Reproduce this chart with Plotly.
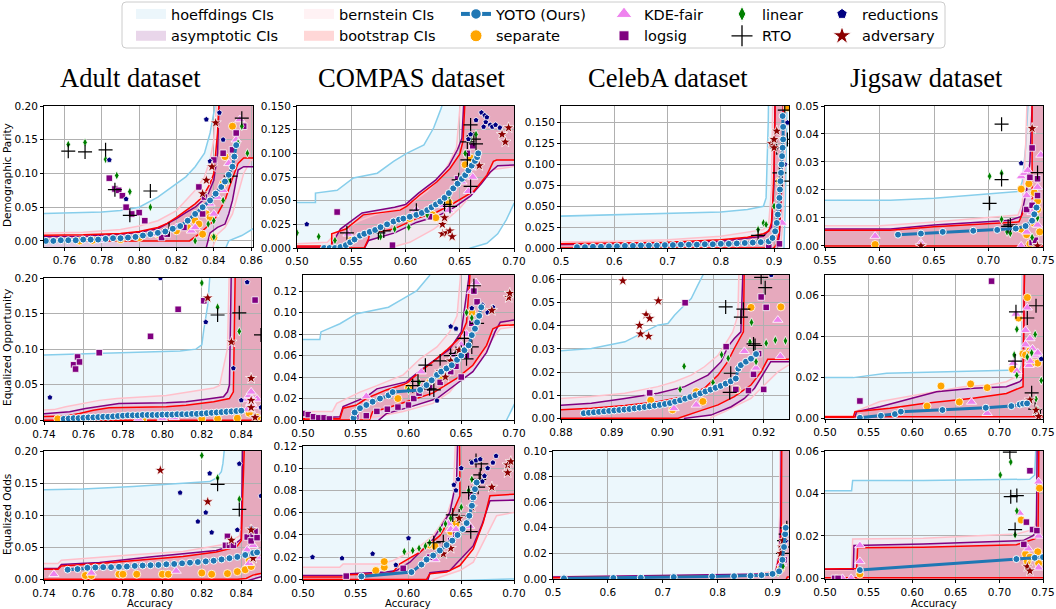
import plotly.graph_objects as go

W, H = 1056, 609

# ======================= DATA =======================
# ---- tick values ----
adult_dp_xticks = [0.76, 0.78, 0.80, 0.82, 0.84, 0.86]
adult_xticks = [0.74, 0.76, 0.78, 0.80, 0.82, 0.84]
compas_xticks = [0.50, 0.55, 0.60, 0.65, 0.70]
celeba_xticks = [0.5, 0.6, 0.7, 0.8, 0.9]
celeba_eop_xticks = [0.88, 0.89, 0.90, 0.91, 0.92]
jigsaw_dp_xticks = [0.55, 0.60, 0.65, 0.70, 0.75]
jigsaw_xticks = [0.50, 0.55, 0.60, 0.65, 0.70, 0.75]
adult_yticks = [0.00, 0.05, 0.10, 0.15, 0.20]
compas_dp_yticks = [0.000, 0.025, 0.050, 0.075, 0.100, 0.125, 0.150]
celeba_dp_yticks = [0.000, 0.025, 0.050, 0.075, 0.100, 0.125, 0.150]
jigsaw_dp_yticks = [0.00, 0.01, 0.02, 0.03, 0.04, 0.05]
compas_eop_yticks = [0.00, 0.02, 0.04, 0.06, 0.08, 0.10, 0.12]
celeba_eop_yticks = [0.00, 0.01, 0.02, 0.03, 0.04, 0.05, 0.06]
jigsaw_eop_yticks = [0.00, 0.02, 0.04, 0.06]
compas_eo_yticks = [0.00, 0.02, 0.04, 0.06, 0.08, 0.10, 0.12]
celeba_eo_yticks = [0.00, 0.02, 0.04, 0.06, 0.08, 0.10]
jigsaw_eo_yticks = [0.00, 0.02, 0.04, 0.06]

# ---- Adult / Demographic Parity ----
adult_dp_hoeff_up = [(0.74,0.040),(0.76,0.041),(0.78,0.043),(0.79,0.045),(0.80,0.050),(0.81,0.065),(0.815,0.075),(0.82,0.085),(0.825,0.095),(0.83,0.110),(0.835,0.130),(0.838,0.160),(0.840,0.190),(0.842,0.220)]
adult_dp_hoeff_lo = [(0.74,-0.02),(0.845,-0.02),(0.848,0.000),(0.855,0.008),(0.861,0.018),(0.87,0.025)]
adult_dp_bern_up = [(0.74,0.011),(0.77,0.013),(0.79,0.017),(0.80,0.022),(0.81,0.030),(0.82,0.045),(0.83,0.075),(0.835,0.095),(0.838,0.120),(0.840,0.150),(0.842,0.220)]
adult_dp_bern_lo = [(0.74,-0.02),(0.838,-0.02),(0.842,0.010),(0.846,0.020),(0.850,0.040),(0.853,0.070),(0.856,0.100),(0.860,0.120),(0.87,0.120)]
adult_dp_asym_up = [(0.74,0.006),(0.77,0.007),(0.79,0.010),(0.80,0.013),(0.81,0.018),(0.82,0.033),(0.825,0.042),(0.83,0.050),(0.834,0.060),(0.837,0.070),(0.840,0.090),(0.842,0.130),(0.843,0.220)]
adult_dp_asym_lo = [(0.74,-0.02),(0.835,-0.02),(0.838,0.012),(0.842,0.020),(0.846,0.025),(0.848,0.040),(0.850,0.060),(0.852,0.090),(0.853,0.105),(0.856,0.110),(0.87,0.110)]
adult_dp_boot_up = [(0.74,0.008),(0.77,0.009),(0.79,0.011),(0.80,0.014),(0.81,0.020),(0.815,0.026),(0.82,0.035),(0.825,0.045),(0.83,0.055),(0.833,0.063),(0.836,0.075),(0.838,0.085),(0.840,0.100),(0.841,0.130),(0.842,0.160),(0.843,0.220)]
adult_dp_boot_lo = [(0.74,0.0),(0.827,0.0),(0.832,0.010),(0.836,0.020),(0.840,0.030),(0.843,0.045),(0.846,0.060),(0.849,0.085),(0.851,0.100),(0.853,0.115),(0.856,0.123),(0.87,0.123)]
adult_dp_yoto = [(0.750,0.000),(0.754,0.000),(0.758,0.001),(0.762,0.001),(0.766,0.001),(0.770,0.002),(0.774,0.002),(0.778,0.002),(0.782,0.003),(0.786,0.004),(0.790,0.004),(0.794,0.005),(0.798,0.006),(0.802,0.008),(0.806,0.010),(0.810,0.012),(0.814,0.014),(0.818,0.018),(0.822,0.022),(0.826,0.030),(0.830,0.040),(0.834,0.050),(0.838,0.060),(0.841,0.070),(0.844,0.080),(0.846,0.088),(0.848,0.098),(0.850,0.110),(0.851,0.125),(0.852,0.142)]
adult_dp_sep = [(0.768,0.000),(0.775,0.001),(0.790,0.002),(0.800,0.005),(0.810,0.010),(0.820,0.015),(0.826,0.020),(0.830,0.030),(0.832,0.025),(0.834,0.010),(0.836,0.040),(0.838,0.035),(0.840,0.005),(0.845,0.085),(0.846,0.125),(0.850,0.170)]
adult_dp_kde = [(0.780,0.001),(0.810,0.010),(0.820,0.020),(0.828,0.015),(0.830,0.020),(0.834,0.050),(0.838,0.055),(0.840,0.040),(0.842,0.065),(0.845,0.075),(0.848,0.115),(0.852,0.150),(0.854,0.180)]
adult_dp_logsig = [(0.784,0.093),(0.787,0.077),(0.789,0.075),(0.791,0.067),(0.793,0.050),(0.796,0.040),(0.800,0.042),(0.803,0.030),(0.812,0.005),(0.815,0.010),(0.824,0.020),(0.832,0.080),(0.834,0.040),(0.835,0.065),(0.840,0.120),(0.845,0.130),(0.850,0.135),(0.852,0.160),(0.856,0.170)]
adult_dp_linear = [(0.762,0.143),(0.771,0.146),(0.782,0.121),(0.788,0.097),(0.795,0.073),(0.806,0.050),(0.830,0.000),(0.837,0.025),(0.840,0.030),(0.840,0.006),(0.845,0.060),(0.848,0.090),(0.853,0.145),(0.855,0.170),(0.858,0.130)]
adult_dp_rto = [(0.762,0.133),(0.771,0.132),(0.782,0.135),(0.787,0.076),(0.795,0.038),(0.806,0.074),(0.816,0.017),(0.849,0.096),(0.855,0.182)]
adult_dp_red = [(0.784,0.120),(0.793,0.062),(0.836,0.180),(0.838,0.118),(0.843,0.190),(0.845,0.150)]
adult_dp_adv = [(0.834,0.070),(0.836,0.090),(0.839,0.110),(0.841,0.175)]

# ---- COMPAS / Demographic Parity ----
compas_dp_hoeff_up = [(0.49,0.048),(0.517,0.048),(0.517,0.058),(0.537,0.061),(0.552,0.074),(0.574,0.079),(0.589,0.0915),(0.601,0.100),(0.617,0.109),(0.626,0.127),(0.633,0.148),(0.636,0.160)]
compas_dp_hoeff_lo = [(0.49,-0.01),(0.64,-0.01),(0.66,0.000),(0.675,0.005),(0.685,0.015),(0.693,0.030),(0.700,0.047),(0.71,0.060)]
compas_dp_bern_up = [(0.49,0.004),(0.528,0.006),(0.535,0.015),(0.558,0.029),(0.574,0.036),(0.595,0.042),(0.607,0.049),(0.620,0.060),(0.632,0.074),(0.641,0.0915),(0.647,0.106),(0.650,0.148),(0.651,0.160)]
compas_dp_bern_lo = [(0.49,-0.01),(0.574,-0.01),(0.585,0.000),(0.604,0.006),(0.626,0.020),(0.638,0.030),(0.650,0.042),(0.663,0.060),(0.675,0.0755),(0.681,0.083),(0.700,0.086),(0.71,0.086)]
compas_dp_asym_up = [(0.49,0.001),(0.530,0.001),(0.535,0.010),(0.540,0.020),(0.560,0.037),(0.590,0.043),(0.600,0.046),(0.612,0.058),(0.628,0.072),(0.640,0.087),(0.648,0.104),(0.652,0.116),(0.654,0.160)]
compas_dp_asym_lo = [(0.49,-0.005),(0.560,-0.005),(0.566,0.008),(0.590,0.016),(0.610,0.027),(0.630,0.034),(0.645,0.043),(0.660,0.055),(0.670,0.068),(0.678,0.080),(0.685,0.087),(0.700,0.088),(0.71,0.088)]
compas_dp_boot_up = [(0.49,0.002),(0.532,0.002),(0.532,0.015),(0.545,0.020),(0.561,0.035),(0.595,0.040),(0.601,0.044),(0.613,0.056),(0.629,0.070),(0.641,0.084),(0.650,0.099),(0.653,0.113),(0.655,0.160)]
compas_dp_boot_lo = [(0.49,0.0),(0.562,0.0),(0.566,0.010),(0.567,0.015),(0.589,0.020),(0.610,0.031),(0.629,0.038),(0.644,0.047),(0.663,0.060),(0.675,0.077),(0.681,0.0915),(0.684,0.093),(0.700,0.093),(0.71,0.093)]
compas_dp_yoto = [(0.525,0.000),(0.530,0.000),(0.535,0.000),(0.540,0.001),(0.545,0.003),(0.549,0.006),(0.553,0.009),(0.558,0.013),(0.562,0.015),(0.567,0.017),(0.572,0.019),(0.577,0.022),(0.583,0.025),(0.589,0.028),(0.594,0.030),(0.598,0.031),(0.604,0.033),(0.610,0.035),(0.615,0.037),(0.620,0.040),(0.624,0.043),(0.628,0.046),(0.632,0.049),(0.636,0.053),(0.640,0.058),(0.644,0.063),(0.648,0.068),(0.652,0.073),(0.655,0.077),(0.658,0.082),(0.661,0.087),(0.664,0.092),(0.666,0.096),(0.667,0.100)]
compas_dp_sep = [(0.550,0.008),(0.604,0.031),(0.625,0.035),(0.628,0.032),(0.640,0.048),(0.655,0.088),(0.660,0.095)]
compas_dp_kde = [(0.547,0.015),(0.556,0.012),(0.610,0.040),(0.635,0.045),(0.640,0.040),(0.652,0.070),(0.658,0.060),(0.660,0.085),(0.662,0.075)]
compas_dp_logsig = [(0.537,0.038),(0.588,0.003),(0.622,0.033),(0.648,0.073),(0.657,0.100),(0.662,0.108)]
compas_dp_linear = [(0.500,0.016),(0.520,0.012),(0.535,0.008),(0.577,0.012),(0.590,0.020),(0.603,0.022),(0.620,0.035),(0.640,0.055),(0.655,0.100),(0.660,0.115),(0.665,0.120)]
compas_dp_rto = [(0.546,0.016),(0.575,0.016),(0.580,0.018),(0.610,0.040),(0.636,0.046),(0.641,0.044),(0.649,0.072),(0.657,0.093),(0.657,0.112),(0.660,0.065),(0.660,0.130),(0.663,0.115),(0.665,0.110)]
compas_dp_red = [(0.509,0.025),(0.658,0.115),(0.660,0.120),(0.665,0.135),(0.670,0.143),(0.672,0.128),(0.673,0.140),(0.674,0.133),(0.675,0.138),(0.678,0.130),(0.680,0.128),(0.683,0.130),(0.687,0.127)]
compas_dp_adv = [(0.634,0.015),(0.634,0.025),(0.636,0.032),(0.638,0.016),(0.641,0.018),(0.643,0.012),(0.668,0.087),(0.689,0.120),(0.692,0.112),(0.695,0.127)]

# ---- CelebA / Demographic Parity ----
celeba_dp_hoeff_up = [(0.49,0.038),(0.60,0.040),(0.70,0.041),(0.80,0.043),(0.85,0.046),(0.88,0.050),(0.885,0.060),(0.887,0.100),(0.889,0.150),(0.890,0.200)]
celeba_dp_hoeff_lo = [(0.49,-0.01),(0.918,-0.01),(0.921,0.050),(0.923,0.150),(0.925,0.200),(0.95,0.200)]
celeba_dp_bern_up = [(0.49,0.007),(0.60,0.008),(0.70,0.010),(0.80,0.014),(0.88,0.022),(0.89,0.030),(0.895,0.070),(0.898,0.200)]
celeba_dp_bern_lo = [(0.49,-0.01),(0.910,-0.01),(0.915,0.020),(0.920,0.100),(0.922,0.200),(0.95,0.200)]
celeba_dp_asym_up = [(0.49,0.004),(0.60,0.005),(0.70,0.006),(0.80,0.008),(0.88,0.014),(0.895,0.025),(0.900,0.080),(0.902,0.200)]
celeba_dp_asym_lo = [(0.49,-0.005),(0.905,-0.005),(0.910,0.015),(0.915,0.080),(0.918,0.200),(0.95,0.200)]
celeba_dp_boot_up = [(0.49,0.005),(0.60,0.006),(0.70,0.007),(0.80,0.010),(0.85,0.013),(0.88,0.017),(0.89,0.020),(0.895,0.030),(0.898,0.060),(0.900,0.100),(0.902,0.150),(0.903,0.200)]
celeba_dp_boot_lo = [(0.49,0.0),(0.900,0.0),(0.905,0.005),(0.910,0.020),(0.913,0.060),(0.915,0.100),(0.917,0.150),(0.918,0.200),(0.95,0.200)]
celeba_dp_yoto = [(0.530,0.001),(0.545,0.001),(0.560,0.0015),(0.575,0.0015),(0.590,0.002),(0.605,0.002),(0.620,0.0025),(0.635,0.0025),(0.650,0.003),(0.665,0.003),(0.680,0.003),(0.695,0.0035),(0.710,0.0035),(0.725,0.004),(0.740,0.004),(0.755,0.004),(0.770,0.0045),(0.785,0.0045),(0.800,0.005),(0.815,0.005),(0.830,0.0055),(0.845,0.006),(0.860,0.0065),(0.875,0.007),(0.890,0.008),(0.897,0.012),(0.902,0.020),(0.905,0.030),(0.907,0.040),(0.909,0.050),(0.910,0.060),(0.911,0.070),(0.912,0.080),(0.913,0.090),(0.914,0.100),(0.915,0.110),(0.916,0.120),(0.917,0.130),(0.917,0.145),(0.916,0.158)]
celeba_dp_sep = [(0.910,0.080),(0.925,0.168)]
celeba_dp_kde = [(0.915,0.030)]
celeba_dp_logsig = [(0.890,0.002),(0.910,0.005)]
celeba_dp_linear = [(0.870,0.022),(0.880,0.030),(0.885,0.028),(0.900,0.050),(0.910,0.090)]
celeba_dp_rto = [(0.870,0.015),(0.905,0.120),(0.910,0.090),(0.915,0.080),(0.920,0.165),(0.925,0.130)]
celeba_dp_red = [(0.920,0.100),(0.925,0.150)]
celeba_dp_adv = [(0.895,0.125),(0.900,0.120),(0.900,0.130),(0.905,0.140)]

# ---- Jigsaw / Demographic Parity ----
jigsaw_dp_hoeff_up = [(0.54,0.0163),(0.61,0.0163),(0.65,0.0170),(0.70,0.0185),(0.728,0.0195),(0.731,0.023),(0.734,0.035),(0.736,0.049),(0.737,0.060)]
jigsaw_dp_hoeff_lo = [(0.54,-0.01),(0.80,-0.01)]
jigsaw_dp_bern_up = [(0.54,0.0072),(0.60,0.0072),(0.65,0.0085),(0.70,0.0100),(0.727,0.0110),(0.731,0.015),(0.734,0.035),(0.736,0.060)]
jigsaw_dp_bern_lo = [(0.54,-0.01),(0.80,-0.01)]
jigsaw_dp_asym_up = [(0.54,0.0060),(0.61,0.0060),(0.65,0.0075),(0.72,0.0092),(0.730,0.0105),(0.735,0.020),(0.738,0.030),(0.740,0.045),(0.741,0.060)]
jigsaw_dp_asym_lo = [(0.54,-0.005),(0.80,-0.005)]
jigsaw_dp_boot_up = [(0.54,0.0056),(0.61,0.0056),(0.65,0.0068),(0.728,0.0086),(0.733,0.0133),(0.740,0.0140),(0.740,0.060)]
jigsaw_dp_boot_lo = [(0.54,0.0),(0.80,0.0)]
jigsaw_dp_yoto = [(0.617,0.0040),(0.638,0.0044),(0.658,0.0050),(0.686,0.0054),(0.708,0.0057),(0.725,0.0062),(0.734,0.0071),(0.740,0.0090),(0.742,0.0113),(0.744,0.0137)]
jigsaw_dp_sep = [(0.596,0.0005),(0.730,0.0203),(0.730,0.0060),(0.735,0.0040),(0.737,0.0222),(0.738,0.0007),(0.742,0.0190),(0.742,0.0080),(0.745,0.0160),(0.745,0.0130),(0.747,0.0050)]
jigsaw_dp_kde = [(0.596,0.0035),(0.638,0.0010),(0.730,0.0248),(0.730,0.0000),(0.733,0.0260),(0.735,0.0180),(0.735,0.0050),(0.736,0.0270),(0.740,0.0150),(0.740,0.0120),(0.745,0.0210),(0.745,0.0075),(0.748,0.0325)]
jigsaw_dp_logsig = [(0.735,0.0130),(0.738,0.0245),(0.740,0.0350),(0.740,0.0145),(0.740,0.0012),(0.743,0.0020),(0.745,0.0240),(0.745,0.0180)]
jigsaw_dp_linear = [(0.701,0.0249),(0.712,0.0260),(0.712,0.0095),(0.717,0.0050),(0.720,0.0045),(0.740,0.0030),(0.745,0.0100)]
jigsaw_dp_rto = [(0.701,0.0152),(0.712,0.0435),(0.712,0.0237),(0.718,0.0070),(0.720,0.0075),(0.745,0.0262)]
jigsaw_dp_red = [(0.730,0.0295)]
jigsaw_dp_adv = [(0.638,0.0000),(0.740,0.0420),(0.745,0.0000)]

# ---- Adult / Equalized Opportunity ----
adult_eop_hoeff_up = [(0.73,0.091),(0.751,0.0925),(0.768,0.094),(0.785,0.0955),(0.809,0.0975),(0.817,0.100),(0.820,0.106),(0.821,0.127),(0.823,0.162),(0.824,0.200),(0.825,0.220)]
adult_eop_hoeff_lo = [(0.73,-0.02),(0.87,-0.02)]
adult_eop_bern_up = [(0.73,0.013),(0.745,0.015),(0.751,0.019),(0.760,0.0235),(0.768,0.028),(0.777,0.0305),(0.785,0.032),(0.802,0.035),(0.814,0.040),(0.826,0.0455),(0.829,0.049),(0.831,0.077),(0.833,0.101),(0.834,0.220)]
adult_eop_bern_lo = [(0.73,-0.02),(0.87,-0.02)]
adult_eop_asym_up = [(0.73,0.007),(0.753,0.012),(0.761,0.0165),(0.773,0.021),(0.778,0.0235),(0.802,0.0245),(0.812,0.026),(0.822,0.0295),(0.831,0.033),(0.833,0.040),(0.834,0.0495),(0.835,0.220)]
adult_eop_asym_lo = [(0.73,-0.02),(0.87,-0.02)]
adult_eop_boot_up = [(0.73,0.005),(0.751,0.006),(0.758,0.0095),(0.765,0.014),(0.773,0.0175),(0.802,0.019),(0.812,0.021),(0.826,0.026),(0.834,0.0305),(0.836,0.040),(0.837,0.220)]
adult_eop_boot_lo = [(0.73,0.0),(0.87,0.0)]
adult_eop_yoto = [(0.750,0.002),(0.7525,0.0025),(0.755,0.003),(0.7575,0.003),(0.760,0.0035),(0.7625,0.004),(0.765,0.004),(0.7675,0.0045),(0.770,0.005),(0.7725,0.005),(0.775,0.0055),(0.7775,0.006),(0.780,0.0065),(0.7825,0.007),(0.785,0.007),(0.7875,0.007),(0.790,0.0075),(0.7925,0.0075),(0.795,0.0075),(0.7975,0.0075),(0.800,0.008),(0.8025,0.008),(0.805,0.008),(0.8075,0.0085),(0.810,0.0085),(0.8125,0.0085),(0.815,0.009),(0.8175,0.009),(0.820,0.0095),(0.8225,0.010),(0.825,0.0105),(0.8275,0.011),(0.830,0.0115),(0.8325,0.012),(0.835,0.0125),(0.8375,0.013),(0.840,0.0135)]
adult_eop_sep = [(0.747,0.002),(0.790,0.001),(0.820,0.002),(0.828,0.002),(0.838,0.003),(0.844,0.010),(0.848,0.004)]
adult_eop_kde = [(0.788,0.002),(0.800,0.003),(0.806,0.004),(0.843,0.015),(0.843,0.030),(0.844,0.035),(0.845,0.025),(0.845,0.040),(0.846,0.020),(0.848,0.030)]
adult_eop_logsig = [(0.755,0.078),(0.756,0.072),(0.757,0.089),(0.758,0.082),(0.768,0.095),(0.794,0.118),(0.808,0.156),(0.821,0.168),(0.847,0.169)]
adult_eop_linear = [(0.820,0.193),(0.828,0.159),(0.839,0.125)]
adult_eop_rto = [(0.828,0.148),(0.839,0.151),(0.850,0.120)]
adult_eop_red = [(0.743,0.032),(0.799,0.200),(0.822,0.138),(0.836,0.073),(0.840,0.028),(0.843,0.194),(0.850,0.018)]
adult_eop_adv = [(0.823,0.172),(0.835,0.110),(0.845,0.059),(0.845,0.028),(0.845,0.018),(0.847,0.004)]

# ---- COMPAS / Equalized Opportunity ----
compas_eop_hoeff_up = [(0.49,0.075),(0.516,0.075),(0.517,0.082),(0.535,0.0896),(0.551,0.099),(0.566,0.102),(0.581,0.105),(0.595,0.113),(0.608,0.1205),(0.617,0.131),(0.620,0.1345),(0.622,0.150)]
compas_eop_hoeff_lo = [(0.49,-0.01),(0.690,-0.01),(0.693,0.0),(0.700,0.014),(0.71,0.030)]
compas_eop_bern_up = [(0.49,0.008),(0.528,0.008),(0.532,0.0155),(0.554,0.026),(0.570,0.032),(0.595,0.042),(0.611,0.057),(0.627,0.068),(0.639,0.082),(0.646,0.097),(0.649,0.131),(0.650,0.150)]
compas_eop_bern_lo = [(0.49,-0.01),(0.550,-0.01),(0.554,0.0),(0.595,0.008),(0.623,0.0155),(0.639,0.026),(0.652,0.042),(0.668,0.057),(0.680,0.076),(0.687,0.085),(0.700,0.0865),(0.71,0.0865)]
compas_eop_asym_up = [(0.49,0.001),(0.535,0.003),(0.538,0.0125),(0.560,0.0215),(0.570,0.029),(0.598,0.0355),(0.611,0.046),(0.627,0.057),(0.639,0.066),(0.650,0.082),(0.657,0.131),(0.658,0.150)]
compas_eop_asym_lo = [(0.49,-0.005),(0.570,-0.005),(0.572,0.0),(0.579,0.006),(0.601,0.012),(0.627,0.020),(0.646,0.034),(0.661,0.045),(0.674,0.063),(0.682,0.082),(0.687,0.091),(0.700,0.093),(0.71,0.093)]
compas_eop_boot_up = [(0.49,0.001),(0.535,0.0015),(0.538,0.011),(0.551,0.014),(0.560,0.020),(0.579,0.028),(0.598,0.034),(0.611,0.045),(0.623,0.054),(0.636,0.065),(0.649,0.077),(0.655,0.091),(0.658,0.131),(0.659,0.150)]
compas_eop_boot_lo = [(0.49,0.0),(0.563,0.0),(0.566,0.0077),(0.579,0.011),(0.598,0.017),(0.623,0.025),(0.646,0.039),(0.661,0.051),(0.674,0.0695),(0.680,0.085),(0.687,0.088),(0.700,0.089),(0.71,0.089)]
compas_eop_yoto = [(0.548,0.002),(0.549,0.007),(0.554,0.011),(0.560,0.014),(0.566,0.017),(0.573,0.020),(0.581,0.023),(0.585,0.026),(0.611,0.028),(0.617,0.0325),(0.622,0.037),(0.627,0.042),(0.631,0.045),(0.636,0.048),(0.641,0.051),(0.646,0.056),(0.650,0.060),(0.653,0.065),(0.657,0.0695),(0.660,0.079),(0.663,0.085),(0.665,0.091),(0.667,0.097),(0.669,0.105)]
compas_eop_sep = [(0.590,0.020),(0.600,0.030),(0.620,0.035),(0.630,0.040),(0.645,0.055),(0.660,0.100)]
compas_eop_kde = [(0.560,0.022),(0.612,0.045),(0.643,0.060),(0.650,0.070),(0.655,0.080),(0.660,0.120),(0.664,0.128)]
compas_eop_logsig = [(0.500,0.006),(0.505,0.005),(0.510,0.003),(0.515,0.002),(0.520,0.002),(0.525,0.001),(0.550,0.003),(0.560,0.004),(0.570,0.008),(0.580,0.010),(0.590,0.012),(0.600,0.014),(0.605,0.020),(0.610,0.025),(0.620,0.030),(0.630,0.035),(0.640,0.045),(0.645,0.050),(0.650,0.040),(0.655,0.060),(0.660,0.090),(0.662,0.120),(0.665,0.110)]
compas_eop_linear = [(0.600,0.028),(0.610,0.035),(0.640,0.050),(0.650,0.065),(0.655,0.100),(0.660,0.095)]
compas_eop_rto = [(0.604,0.032),(0.609,0.036),(0.616,0.051),(0.620,0.029),(0.624,0.028),(0.630,0.055),(0.640,0.060),(0.645,0.062),(0.650,0.063),(0.653,0.076),(0.655,0.057),(0.660,0.068),(0.662,0.125),(0.665,0.090)]
compas_eop_red = [(0.627,0.018),(0.640,0.087),(0.645,0.085),(0.660,0.104),(0.670,0.107),(0.675,0.100),(0.680,0.105)]
compas_eop_adv = [(0.630,0.045),(0.635,0.040),(0.640,0.055),(0.648,0.065),(0.679,0.102),(0.695,0.114),(0.696,0.118)]

# ---- CelebA / Equalized Opportunity ----
celeba_eop_hoeff_up = [(0.875,0.0285),(0.886,0.0302),(0.8926,0.0331),(0.8965,0.0374),(0.8991,0.0403),(0.9011,0.0410),(0.9024,0.0446),(0.9037,0.0475),(0.9057,0.0518),(0.9070,0.0576),(0.9080,0.0619),(0.9085,0.070)]
celeba_eop_hoeff_lo = [(0.875,-0.01),(0.93,-0.01)]
celeba_eop_bern_up = [(0.875,0.0079),(0.886,0.0094),(0.8926,0.0108),(0.8991,0.0137),(0.9024,0.0158),(0.9057,0.0187),(0.9083,0.0223),(0.9110,0.0273),(0.9123,0.0317),(0.9139,0.0374),(0.9149,0.0446),(0.9152,0.070)]
celeba_eop_bern_lo = [(0.875,-0.01),(0.9090,-0.01),(0.9096,0.0003),(0.9123,0.0029),(0.9149,0.0058),(0.9175,0.0086),(0.9188,0.0115),(0.9208,0.0158),(0.9228,0.0201),(0.9249,0.0230),(0.93,0.024)]
celeba_eop_asym_up = [(0.875,0.0050),(0.886,0.0065),(0.8926,0.0086),(0.8991,0.0108),(0.9044,0.0137),(0.9090,0.0187),(0.9116,0.0245),(0.9129,0.0309),(0.9142,0.0345),(0.9155,0.0374),(0.9160,0.070)]
celeba_eop_asym_lo = [(0.875,-0.005),(0.9040,-0.005),(0.9044,0.0),(0.9096,0.0014),(0.9136,0.0050),(0.9162,0.0086),(0.9182,0.0130),(0.9201,0.0201),(0.9214,0.0245),(0.93,0.0245)]
celeba_eop_boot_up = [(0.875,0.0033),(0.886,0.0043),(0.8926,0.0055),(0.8991,0.0072),(0.9044,0.0094),(0.9083,0.0130),(0.9110,0.0187),(0.9129,0.0245),(0.9142,0.0302),(0.9152,0.0345),(0.9160,0.0374),(0.9162,0.070)]
celeba_eop_boot_lo = [(0.875,0.0),(0.9031,0.0),(0.9070,0.0029),(0.9110,0.0058),(0.9142,0.0094),(0.9175,0.0144),(0.9195,0.0201),(0.9208,0.0255),(0.93,0.0255)]
celeba_eop_yoto = [(0.8845,0.0022),(0.8855,0.0024),(0.8865,0.0026),(0.8875,0.0028),(0.8885,0.0030),(0.8895,0.0032),(0.8905,0.0034),(0.8915,0.0036),(0.8925,0.0038),(0.8935,0.0040),(0.8945,0.0043),(0.8955,0.0046),(0.8965,0.0049),(0.8975,0.0052),(0.8985,0.0055),(0.8995,0.0058),(0.9005,0.0062),(0.9015,0.0066),(0.9025,0.0072),(0.9035,0.0078),(0.9045,0.0085),(0.9055,0.0092),(0.9065,0.0100),(0.9075,0.0108),(0.9085,0.0116),(0.9095,0.0124),(0.9105,0.0132),(0.9115,0.0140),(0.9125,0.0150),(0.9135,0.0160),(0.9145,0.0172),(0.9150,0.0215),(0.9155,0.0230),(0.9165,0.0245),(0.9175,0.0258),(0.9185,0.0278)]
celeba_eop_sep = [(0.8977,0.0078),(0.9020,0.0037),(0.9067,0.0115),(0.9080,0.0073),(0.9147,0.0125),(0.9175,0.0480),(0.9234,0.0482)]
celeba_eop_kde = [(0.8975,0.0110),(0.9023,0.0043),(0.9067,0.0058),(0.9162,0.0290),(0.9185,0.0218),(0.9228,0.0425),(0.9233,0.0268)]
celeba_eop_logsig = [(0.8975,0.0110),(0.9045,0.0500),(0.9126,0.0310),(0.9145,0.0125),(0.9170,0.0120),(0.9180,0.0190),(0.9190,0.0280),(0.9195,0.0525),(0.9200,0.0125),(0.9205,0.0480)]
celeba_eop_linear = [(0.9035,0.0125),(0.9043,0.0225),(0.9100,0.0155),(0.9117,0.0275),(0.9130,0.0260),(0.9173,0.0330),(0.9176,0.0415),(0.9185,0.0245),(0.9205,0.0325),(0.9223,0.0338),(0.9243,0.0335)]
celeba_eop_rto = [(0.9125,0.0482),(0.9133,0.0112),(0.9135,0.0195),(0.9155,0.0438),(0.9160,0.0472),(0.9180,0.0322),(0.9183,0.0315),(0.9195,0.0610),(0.9203,0.0565)]
celeba_eop_red = [(0.9215,0.0620)]
celeba_eop_adv = [(0.8922,0.0595),(0.8955,0.0402),(0.8957,0.0365),(0.8968,0.0448),(0.8973,0.0355),(0.8975,0.0432),(0.8992,0.0508)]

# ---- Jigsaw / Equalized Opportunity ----
jigsaw_eop_hoeff_up = [(0.49,0.0199),(0.5324,0.0199),(0.5706,0.0220),(0.6508,0.0228),(0.7233,0.0236),(0.7252,0.0260),(0.7263,0.0700),(0.7265,0.080)]
jigsaw_eop_hoeff_lo = [(0.49,-0.01),(0.80,-0.01)]
jigsaw_eop_bern_up = [(0.49,0.0013),(0.5324,0.0013),(0.5344,0.0033),(0.5630,0.0082),(0.5935,0.0106),(0.6240,0.0130),(0.6584,0.0155),(0.6889,0.0163),(0.7080,0.0179),(0.7230,0.0212),(0.7260,0.0260),(0.7270,0.080)]
jigsaw_eop_bern_lo = [(0.49,-0.01),(0.80,-0.01)]
jigsaw_eop_asym_up = [(0.49,0.0008),(0.5344,0.0008),(0.5363,0.0033),(0.5630,0.0057),(0.6279,0.0130),(0.6698,0.0147),(0.7080,0.0155),(0.7233,0.0179),(0.7271,0.0196),(0.7290,0.080)]
jigsaw_eop_asym_lo = [(0.49,-0.005),(0.80,-0.005)]
jigsaw_eop_boot_up = [(0.49,0.0005),(0.5324,0.0005),(0.5344,0.0033),(0.5744,0.0049),(0.6126,0.0073),(0.6698,0.0098),(0.7080,0.0122),(0.7271,0.0155),(0.7290,0.080)]
jigsaw_eop_boot_lo = [(0.49,0.0008),(0.80,0.0008)]
jigsaw_eop_yoto = [(0.540,0.0003),(0.5641,0.0013),(0.5802,0.0021),(0.5870,0.0033),(0.6347,0.0041),(0.6844,0.0052),(0.7137,0.0060),(0.7233,0.0068),(0.7271,0.0072),(0.7317,0.0073)]
jigsaw_eop_sep = [(0.617,0.0060),(0.633,0.0158),(0.654,0.0080),(0.667,0.0168),(0.686,0.0150),(0.715,0.0240),(0.722,0.0490),(0.727,0.0315),(0.730,0.0310),(0.732,0.0590),(0.735,0.0330),(0.738,0.0270),(0.744,0.0270)]
jigsaw_eop_kde = [(0.668,0.0080),(0.686,0.0025),(0.716,0.0270),(0.719,0.0510),(0.720,0.0230),(0.730,0.0430),(0.730,0.0360),(0.732,0.0540),(0.734,0.0260),(0.735,0.0390),(0.735,0.0280),(0.738,0.0340),(0.741,0.0310),(0.744,0.0320)]
jigsaw_eop_logsig = [(0.540,0.0085),(0.691,0.0670)]
jigsaw_eop_linear = [(0.717,0.0310),(0.720,0.0435),(0.720,0.0210),(0.732,0.0300),(0.737,0.0320),(0.741,0.0410),(0.742,0.0095),(0.744,0.0040),(0.748,0.0185)]
jigsaw_eop_rto = [(0.718,0.0280),(0.719,0.0520),(0.732,0.0490),(0.737,0.0125),(0.741,0.0045),(0.742,0.0550),(0.747,0.0015)]
jigsaw_eop_red = [(0.748,0.0290)]
jigsaw_eop_adv = [(0.735,0.0090),(0.742,0.0040),(0.745,0.0010)]

# ---- Adult / Equalized Odds ----
adult_eo_hoeff_up = [(0.73,0.139),(0.7598,0.1407),(0.7851,0.1448),(0.8020,0.1483),(0.8121,0.1499),(0.8240,0.1524),(0.8273,0.1575),(0.8299,0.1678),(0.8307,0.1806),(0.8316,0.2000),(0.832,0.220)]
adult_eo_hoeff_lo = [(0.73,-0.02),(0.87,-0.02)]
adult_eo_bern_up = [(0.73,0.0246),(0.7471,0.0246),(0.7488,0.0297),(0.7682,0.0348),(0.7851,0.0384),(0.8104,0.0435),(0.8324,0.0552),(0.8392,0.0680),(0.8408,0.1294),(0.8412,0.220)]
adult_eo_bern_lo = [(0.73,-0.02),(0.87,-0.02)]
adult_eo_asym_up = [(0.73,0.0169),(0.7471,0.0169),(0.7488,0.0230),(0.7682,0.0261),(0.7935,0.0348),(0.8104,0.0399),(0.8273,0.0450),(0.8358,0.0527),(0.8400,0.0629),(0.8408,0.220)]
adult_eo_asym_lo = [(0.73,-0.005),(0.840,-0.005),(0.850,0.004),(0.87,0.006)]
adult_eo_boot_up = [(0.73,0.0159),(0.7471,0.0159),(0.7488,0.0210),(0.7682,0.0246),(0.7935,0.0312),(0.8104,0.0358),(0.8273,0.0425),(0.8375,0.0501),(0.8400,0.0604),(0.8417,0.220)]
adult_eo_boot_lo = [(0.73,0.0),(0.838,0.0),(0.8425,0.0015),(0.8459,0.0066),(0.8498,0.0092),(0.87,0.0095)]
adult_eo_yoto = [(0.752,0.015),(0.757,0.016),(0.762,0.018),(0.766,0.0185),(0.770,0.019),(0.774,0.019),(0.778,0.0195),(0.782,0.020),(0.786,0.021),(0.790,0.0215),(0.794,0.022),(0.798,0.0225),(0.802,0.0235),(0.806,0.024),(0.810,0.025),(0.814,0.026),(0.818,0.027),(0.822,0.028),(0.826,0.029),(0.830,0.031),(0.834,0.033),(0.838,0.035),(0.842,0.038),(0.846,0.041),(0.848,0.042)]
adult_eo_sep = [(0.761,0.006),(0.764,0.006),(0.778,0.008),(0.780,0.008),(0.787,0.008),(0.800,0.008),(0.803,0.008),(0.820,0.010),(0.825,0.008),(0.833,0.009),(0.838,0.012),(0.842,0.015),(0.844,0.030),(0.845,0.020)]
adult_eo_kde = [(0.745,0.008),(0.764,0.010),(0.807,0.013),(0.843,0.046),(0.844,0.025),(0.846,0.053),(0.848,0.035)]
adult_eo_logsig = [(0.832,0.053),(0.833,0.067),(0.834,0.053),(0.836,0.053),(0.843,0.066),(0.845,0.060),(0.846,0.070),(0.847,0.075),(0.848,0.065)]
adult_eo_linear = [(0.820,0.193),(0.828,0.158),(0.839,0.125)]
adult_eo_rto = [(0.828,0.148),(0.839,0.109)]
adult_eo_red = [(0.809,0.135),(0.818,0.090),(0.822,0.104),(0.824,0.165),(0.825,0.073),(0.838,0.077),(0.839,0.180),(0.845,0.080),(0.850,0.130)]
adult_eo_adv = [(0.799,0.170),(0.823,0.121),(0.835,0.061),(0.845,0.077),(0.846,0.033)]

# ---- COMPAS / Equalized Odds ----
compas_eo_hoeff_up = [(0.49,0.150),(0.71,0.150)]
compas_eo_hoeff_lo = [(0.49,-0.001),(0.65,-0.001),(0.70,0.0005),(0.71,0.001)]
compas_eo_bern_up = [(0.49,0.011),(0.5348,0.011),(0.538,0.014),(0.5728,0.014),(0.5854,0.017),(0.6076,0.0275),(0.6234,0.0394),(0.6361,0.0573),(0.6424,0.0752),(0.644,0.117),(0.6456,0.150)]
compas_eo_bern_lo = [(0.49,-0.01),(0.620,-0.01),(0.6234,0.0),(0.6487,0.008),(0.6614,0.0155),(0.674,0.0394),(0.6835,0.0573),(0.700,0.0603),(0.71,0.0603)]
compas_eo_asym_up = [(0.49,0.0036),(0.5411,0.0036),(0.5443,0.0051),(0.5791,0.0066),(0.5886,0.0080),(0.6013,0.0155),(0.6234,0.0364),(0.6392,0.0603),(0.6456,0.0901),(0.6472,0.150)]
compas_eo_asym_lo = [(0.49,-0.005),(0.6171,-0.005),(0.6203,0.006),(0.6392,0.008),(0.6614,0.0304),(0.6693,0.0484),(0.6772,0.0707),(0.700,0.0716),(0.71,0.0716)]
compas_eo_boot_up = [(0.49,0.0021),(0.5380,0.0021),(0.5411,0.0042),(0.5791,0.0051),(0.5854,0.0066),(0.5918,0.0140),(0.6108,0.0245),(0.6297,0.0394),(0.6392,0.0543),(0.6487,0.0752),(0.6487,0.0901),(0.6480,0.150)]
compas_eo_boot_lo = [(0.49,0.0),(0.6171,0.0),(0.6203,0.0051),(0.6361,0.0066),(0.6487,0.0125),(0.6614,0.0275),(0.6709,0.0513),(0.6772,0.0752),(0.700,0.0767),(0.71,0.0767)]
compas_eo_yoto = [(0.5554,0.0027),(0.6028,0.0066),(0.6123,0.0134),(0.6171,0.0179),(0.6234,0.0215),(0.6297,0.0260),(0.6361,0.0310),(0.6415,0.0349),(0.6465,0.0400),(0.6513,0.0454),(0.6551,0.0507),(0.6576,0.0573),(0.6601,0.0663),(0.6614,0.0737),(0.6630,0.0812),(0.6646,0.0872)]
compas_eo_sep = [(0.569,0.008),(0.577,0.011),(0.577,0.016),(0.620,0.031),(0.625,0.030),(0.640,0.043),(0.645,0.050)]
compas_eo_kde = [(0.625,0.018),(0.638,0.050),(0.640,0.045),(0.645,0.045),(0.658,0.048)]
compas_eo_logsig = [(0.541,0.003),(0.595,0.010),(0.620,0.020),(0.640,0.035),(0.645,0.040),(0.660,0.075)]
compas_eo_linear = [(0.596,0.025),(0.604,0.026),(0.610,0.028),(0.616,0.030),(0.620,0.033),(0.630,0.045),(0.635,0.050),(0.640,0.055),(0.650,0.065),(0.657,0.080),(0.660,0.090)]
compas_eo_rto = [(0.624,0.033),(0.633,0.034),(0.642,0.058),(0.648,0.057),(0.657,0.078),(0.659,0.043),(0.664,0.107),(0.666,0.083),(0.667,0.090),(0.668,0.094),(0.669,0.104)]
compas_eo_red = [(0.509,0.020),(0.537,0.019),(0.566,0.023),(0.588,0.013),(0.600,0.037),(0.643,0.085),(0.645,0.080),(0.647,0.090),(0.650,0.100),(0.660,0.105),(0.664,0.107),(0.668,0.108),(0.670,0.088),(0.672,0.093),(0.675,0.100),(0.680,0.105),(0.683,0.111)]
compas_eo_adv = [(0.633,0.023),(0.640,0.028),(0.648,0.055),(0.660,0.065),(0.679,0.083),(0.694,0.096),(0.694,0.103),(0.697,0.106)]

# ---- CelebA / Equalized Odds ----
celeba_eo_hoeff_up = [(0.49,0.120),(0.95,0.120)]
celeba_eo_hoeff_lo = [(0.49,-0.01),(0.95,-0.01)]
celeba_eo_bern_up = [(0.49,0.002),(0.85,0.003),(0.905,0.006),(0.911,0.020),(0.913,0.050),(0.914,0.120)]
celeba_eo_bern_lo = [(0.49,-0.01),(0.95,-0.01)]
celeba_eo_asym_up = [(0.49,0.0015),(0.905,0.004),(0.913,0.020),(0.915,0.050),(0.916,0.120)]
celeba_eo_asym_lo = [(0.49,-0.005),(0.95,-0.005)]
celeba_eo_boot_up = [(0.49,0.001),(0.905,0.003),(0.914,0.020),(0.916,0.040),(0.917,0.120)]
celeba_eo_boot_lo = [(0.49,-0.001),(0.924,-0.001),(0.927,0.0015),(0.95,0.002)]
celeba_eo_yoto = [(0.52,0.0005),(0.61,0.0008),(0.66,0.0010),(0.72,0.0015),(0.79,0.0020),(0.83,0.0022),(0.86,0.0025),(0.88,0.0030),(0.90,0.0040),(0.912,0.0060),(0.918,0.0150),(0.921,0.0250),(0.923,0.0350),(0.924,0.0400)]
celeba_eo_sep = [(0.915,0.008),(0.924,0.040)]
celeba_eo_kde = [(0.917,0.012)]
celeba_eo_logsig = [(0.921,0.015)]
celeba_eo_linear = [(0.910,0.005),(0.919,0.010)]
celeba_eo_rto = [(0.919,0.020),(0.921,0.030),(0.923,0.025),(0.924,0.035),(0.926,0.040)]
celeba_eo_red = [(0.924,0.030)]
celeba_eo_adv = [(0.915,0.020),(0.917,0.025),(0.919,0.030)]

# ---- Jigsaw / Equalized Odds ----
jigsaw_eo_hoeff_up = [(0.49,0.0413),(0.5305,0.0413),(0.5317,0.0461),(0.6126,0.0461),(0.7347,0.0467),(0.7405,0.0487),(0.7416,0.0600),(0.742,0.070)]
jigsaw_eo_hoeff_lo = [(0.49,-0.01),(0.80,-0.01)]
jigsaw_eo_bern_up = [(0.49,0.0039),(0.5305,0.0039),(0.5317,0.0186),(0.6126,0.0189),(0.7195,0.0209),(0.7405,0.0232),(0.7424,0.0294),(0.7443,0.070)]
jigsaw_eo_bern_lo = [(0.49,-0.01),(0.80,-0.01)]
jigsaw_eo_asym_up = [(0.49,0.0043),(0.5324,0.0043),(0.5332,0.0155),(0.6126,0.0162),(0.7271,0.0178),(0.7385,0.0201),(0.7424,0.0224),(0.7435,0.070)]
jigsaw_eo_asym_lo = [(0.49,-0.005),(0.80,-0.005)]
jigsaw_eo_boot_up = [(0.49,0.0043),(0.5363,0.0046),(0.5374,0.0144),(0.6126,0.0147),(0.7195,0.0158),(0.7405,0.0186),(0.7443,0.0201),(0.7454,0.070)]
jigsaw_eo_boot_lo = [(0.49,0.0003),(0.80,0.0003)]
jigsaw_eo_yoto = [(0.540,0.0039),(0.7195,0.0091),(0.7405,0.0097),(0.750,0.0100)]
jigsaw_eo_sep = [(0.540,0.0020),(0.725,0.0275),(0.730,0.0115),(0.732,0.0080),(0.735,0.0100),(0.744,0.0125),(0.745,0.0070),(0.746,0.0425)]
jigsaw_eo_kde = [(0.520,0.0000),(0.530,0.0000),(0.540,0.0155),(0.540,0.0080),(0.723,0.0308),(0.733,0.0140),(0.745,0.0455),(0.745,0.0200),(0.745,0.0050)]
jigsaw_eo_logsig = [(0.511,0.0000),(0.515,0.0000),(0.728,0.0160),(0.731,0.0265),(0.735,0.0507),(0.738,0.0230),(0.743,0.0225)]
jigsaw_eo_linear = [(0.701,0.0487),(0.713,0.0548),(0.718,0.0205),(0.720,0.0318)]
jigsaw_eo_rto = [(0.712,0.0595),(0.713,0.0385),(0.718,0.0230),(0.720,0.0390)]
jigsaw_eo_red = [(0.748,0.0100)]
jigsaw_eo_adv = [(0.732,0.0055),(0.735,0.0035)]

# ======================= STYLE =======================
CI_KINDS = [
    # key, legend label, edge colour, fill colour
    ("hoeff", "hoeffdings CIs", "#87CEEB", "rgba(135,206,235,0.16)"),
    ("bern", "bernstein CIs", "#FFC0CB", "rgba(255,192,203,0.25)"),
    ("asym", "asymptotic CIs", "#800080", "rgba(128,0,128,0.13)"),
    ("boot", "bootstrap CIs", "#FF0000", "rgba(255,0,0,0.16)"),
]
CI_LEGEND_PATCH = {"hoeff": "#ecf6fb", "bern": "#fff2f4", "asym": "#e9d6ea", "boot": "#ffd7d7"}

METHODS = [
    # key, label, symbol, colour, size, edge
    ("sep", "separate", "circle", "#FFA500", 8, "white"),
    ("kde", "KDE-fair", "triangle-up", "#EE82EE", 9, "white"),
    ("logsig", "logsig", "square", "#800080", 6.5, "white"),
    ("linear", "linear", "diamond-tall", "#008000", 6.5, "white"),
    ("rto", "RTO", "cross-thin", "#000000", 10, "black"),
    ("red", "reductions", "pentagon", "#000080", 6, "white"),
    ("adv", "adversary", "star", "#8B0000", 8.5, "white"),
]

# panel: name, frame (left, right, top, bottom) in px, x range, y range, ticks, formats
PANELS = [
    ("adult_dp", (44, 253, 106, 247), [0.749, 0.861], [-0.009, 0.2], adult_dp_xticks, adult_yticks, ".2f", ".2f"),
    ("compas_dp", (297, 514, 106, 248), [0.5, 0.7], [0.0, 0.15], compas_xticks, compas_dp_yticks, ".2f", ".3f"),
    ("celeba_dp", (561, 789, 106, 248), [0.5, 0.928], [0.0, 0.17], celeba_xticks, celeba_dp_yticks, ".1f", ".3f"),
    ("jigsaw_dp", (825, 1043, 106, 247), [0.55, 0.75], [-0.0004, 0.05], jigsaw_dp_xticks, jigsaw_dp_yticks, ".2f", ".2f"),
    ("adult_eop", (44, 261, 278, 421), [0.74, 0.85], [-0.001, 0.2], adult_xticks, adult_yticks, ".2f", ".2f"),
    ("compas_eop", (303, 514, 275, 420), [0.5, 0.7], [0.0, 0.135], compas_xticks, compas_eop_yticks, ".2f", ".2f"),
    ("celeba_eop", (561, 789, 275, 419), [0.88, 0.925], [-0.0003, 0.062], celeba_eop_xticks, celeba_eop_yticks, ".2f", ".2f"),
    ("jigsaw_eop", (825, 1043, 275, 419), [0.5, 0.75], [-0.0003, 0.07], jigsaw_xticks, jigsaw_eop_yticks, ".2f", ".2f"),
    ("adult_eo", (44, 261, 451, 580), [0.74, 0.85], [-0.001, 0.2], adult_xticks, adult_yticks, ".2f", ".2f"),
    ("compas_eo", (303, 514, 446, 580), [0.5, 0.7], [-0.0005, 0.12], compas_xticks, compas_eo_yticks, ".2f", ".2f"),
    ("celeba_eo", (553, 789, 451, 579), [0.5, 0.93], [0.0, 0.1], celeba_xticks, celeba_eo_yticks, ".1f", ".2f"),
    ("jigsaw_eo", (825, 1043, 451, 579), [0.5, 0.75], [-0.0003, 0.06], jigsaw_xticks, jigsaw_eo_yticks, ".2f", ".2f"),
]

G = globals()


def xs_ys(pts):
    return [p[0] for p in pts], [p[1] for p in pts]


fig = go.Figure()
shapes = []
layout = {}
TICKFONT = dict(family="DejaVu Sans", size=10.5, color="black")

for i, (name, (l, r, t, b), xr, yr, xt, yt, xf, yf) in enumerate(PANELS):
    n = "" if i == 0 else str(i + 1)
    xid, yid = "x" + n, "y" + n
    common = dict(showgrid=True, gridcolor="#b0b0b0", gridwidth=1, zeroline=False,
                  showline=True, linecolor="black", linewidth=1, mirror=True,
                  ticks="outside", ticklen=3, tickwidth=1, tickcolor="black", automargin=False,
                  tickfont=TICKFONT, fixedrange=True)
    layout["xaxis" + n] = dict(domain=[l / W, r / W], range=xr, anchor=yid, tickvals=xt,
                               tickformat=xf, **common)
    layout["yaxis" + n] = dict(domain=[1 - b / H, 1 - t / H], range=yr, anchor=xid, tickvals=yt,
                               tickformat=yf, **common)
    far_x = xr[1] + (xr[1] - xr[0])
    far_y = yr[1] + (yr[1] - yr[0])
    # confidence-interval bands: fills (below grid) + edge lines
    for key, label, edge, fill in CI_KINDS:
        ux, uy = xs_ys(G[f"{name}_{key}_up"])
        lx, ly = xs_ys(G[f"{name}_{key}_lo"])
        px = ux + [far_x] + lx[::-1]
        py = uy + [far_y] + ly[::-1]
        path = "M " + " L ".join(f"{a},{c}" for a, c in zip(px, py)) + " Z"
        shapes.append(dict(type="path", path=path, xref=xid, yref=yid, fillcolor=fill,
                           line=dict(width=0), layer="below"))
    for key, label, edge, fill in CI_KINDS:
        for part in ("up", "lo"):
            x, y = xs_ys(G[f"{name}_{key}_{part}"])
            fig.add_trace(go.Scatter(x=x, y=y, mode="lines", xaxis=xid, yaxis=yid,
                                     line=dict(color=edge, width=1.5), showlegend=False,
                                     hoverinfo="skip"))
    # baselines
    for key, label, sym, col, size, ec in METHODS:
        pts = G.get(f"{name}_{key}", [])
        if not pts:
            continue
        x, y = xs_ys(pts)
        if sym == "cross-thin":
            marker = dict(symbol=sym, size=size, color=col, line=dict(width=1.2, color=col))
        else:
            marker = dict(symbol=sym, size=size, color=col, line=dict(width=0.8, color=ec))
        fig.add_trace(go.Scatter(x=x, y=y, mode="markers", xaxis=xid, yaxis=yid,
                                 marker=marker, showlegend=False, hoverinfo="skip"))
    # YOTO
    x, y = xs_ys(G[f"{name}_yoto"])
    fig.add_trace(go.Scatter(x=x, y=y, mode="lines+markers", xaxis=xid, yaxis=yid,
                             line=dict(color="#1f77b4", width=3),
                             marker=dict(symbol="circle", size=7, color="#1f77b4",
                                         line=dict(width=1, color="white")),
                             showlegend=False, hoverinfo="skip"))

# ======================= LEGEND (6 two-row columns) =======================
LEGEND_TEXT_X = [172, 340, 497, 645, 763, 863]
legend_cols = [
    [("ci", "hoeff"), ("ci", "asym")],
    [("ci", "bern"), ("ci", "boot")],
    [("yoto", None), ("m", "sep")],
    [("m", "kde"), ("m", "logsig")],
    [("m", "linear"), ("m", "rto")],
    [("m", "red"), ("m", "adv")],
]
ci_lookup = {k: lab for k, lab, e, f in CI_KINDS}
m_lookup = {m[0]: m for m in METHODS}
for ci_, col in enumerate(legend_cols):
    lg = "legend" if ci_ == 0 else f"legend{ci_ + 1}"
    for kind, key in col:
        if kind == "ci":
            tr = go.Scatter(x=[None], y=[None], mode="lines", name=ci_lookup[key],
                            line=dict(color=CI_LEGEND_PATCH[key], width=10))
        elif kind == "yoto":
            tr = go.Scatter(x=[None], y=[None], mode="lines+markers", name="YOTO (Ours)",
                            line=dict(color="#1f77b4", width=4),
                            marker=dict(symbol="circle", size=11, color="#1f77b4",
                                        line=dict(width=1.5, color="white")))
        else:
            _, label, sym, colr, size, ec = m_lookup[key]
            if sym == "cross-thin":
                mk = dict(symbol=sym, size=15, color=colr, line=dict(width=1.3, color=colr))
            else:
                big = {"circle": 12, "triangle-up": 14, "square": 10, "diamond-tall": 11,
                       "pentagon": 11, "star": 14}[sym]
                mk = dict(symbol=sym, size=big, color=colr, line=dict(width=1, color="white"))
            tr = go.Scatter(x=[None], y=[None], mode="markers", name=label, marker=mk)
        tr.update(legend=lg, showlegend=True, xaxis="x", yaxis="y")
        fig.add_trace(tr)
    layout[lg] = dict(x=(LEGEND_TEXT_X[ci_] - 41) / W, y=1 + 2 / H, xanchor="left", yanchor="top",
                      orientation="v", bgcolor="rgba(0,0,0,0)", borderwidth=0,
                      font=dict(family="DejaVu Sans", size=14.5, color="black"),
                      tracegroupgap=0, itemsizing="trace")

# legend frame (rounded rectangle)
x0, x1, y0, y1 = 122 / W, 945 / W, 1 - 2 / H, 1 - 48 / H
rx, ry = 4 / W, 4 / H
frame_path = (f"M {x0 + rx},{y0} L {x1 - rx},{y0} Q {x1},{y0} {x1},{y0 - ry} "
              f"L {x1},{y1 + ry} Q {x1},{y1} {x1 - rx},{y1} L {x0 + rx},{y1} "
              f"Q {x0},{y1} {x0},{y1 + ry} L {x0},{y0 - ry} Q {x0},{y0} {x0 + rx},{y0} Z")
shapes.append(dict(type="path", path=frame_path, xref="paper", yref="paper",
                   line=dict(color="#cccccc", width=1), fillcolor="rgba(255,255,255,0)", layer="above"))

# ======================= TEXT =======================
annotations = []
for text, cx in [("Adult dataset", 130), ("COMPAS dataset", 411), ("CelebA dataset", 668),
                 ("Jigsaw dataset", 926)]:
    annotations.append(dict(text=text, x=cx / W, y=1 - 78 / H, xref="paper", yref="paper",
                            showarrow=False, xanchor="center", yanchor="middle",
                            font=dict(family="Liberation Serif", size=26.5, color="black")))
for text, cy in [("Demographic Parity", 175), ("Equalized Opportunity", 348), ("Equalized Odds", 515)]:
    annotations.append(dict(text=text, x=7 / W, y=1 - cy / H, xref="paper", yref="paper",
                            showarrow=False, textangle=-90, xanchor="center", yanchor="middle",
                            font=dict(family="DejaVu Sans", size=10.5, color="black")))
for cx in [150, 408, 934]:
    annotations.append(dict(text="Accuracy", x=cx / W, y=1 - 603 / H, xref="paper", yref="paper",
                            showarrow=False, xanchor="center", yanchor="middle",
                            font=dict(family="DejaVu Sans", size=10, color="black")))

fig.update_layout(
    width=W, height=H, autosize=False,
    margin=dict(l=0, r=0, t=0, b=0, pad=0, autoexpand=False),
    paper_bgcolor="white", plot_bgcolor="white",
    shapes=shapes, annotations=annotations,
    **layout,
)

fig.write_html("out.html", config={"displayModeBar": False},
               post_script="document.body.style.margin='0';")
